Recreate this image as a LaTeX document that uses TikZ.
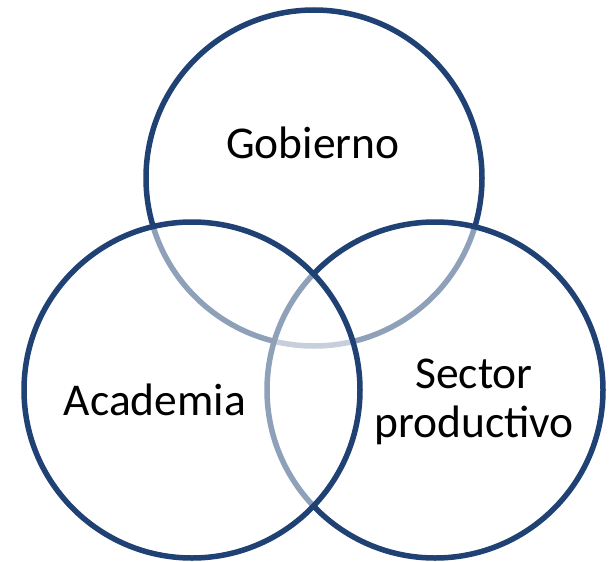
\documentclass[tikz,border=0pt]{standalone}
\usepackage{fontspec}
\setmainfont{Carlito}
\definecolor{vennblue}{RGB}{31,65,115}
\tikzset{
	venn/.style={draw=vennblue, line width=5.5pt, fill=white, fill opacity=0.5},
	lbl/.style={font=\fontsize{45.5}{49}\selectfont, align=center, inner sep=0pt, anchor=base}
}
\begin{document}
\begin{tikzpicture}[x=1pt, y=-1pt]
	\useasboundingbox (0, 0) rectangle (613, 562);
	\draw[venn] (314, 178) circle (168pt);
	\draw[venn] (435, 390) circle (168pt);
	\draw[venn] (192, 390) circle (168pt);
	\node[lbl] (gob) at (313, 158) {Gobierno};
	\node[lbl] (acad) at (155, 415) {Academia};
	\node[lbl] (sect) at (474, 437) {Sector\\productivo};
\end{tikzpicture}
\end{document}
